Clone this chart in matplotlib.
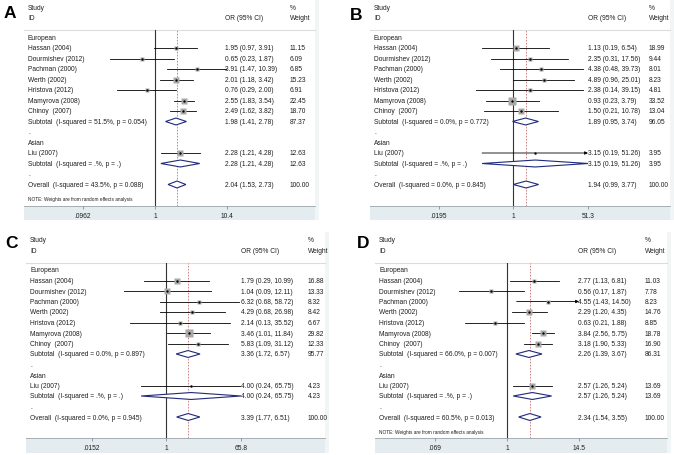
import numpy as np
import matplotlib
matplotlib.use("Agg")
import matplotlib.pyplot as plt
from matplotlib.patches import Rectangle, Polygon
from matplotlib.lines import Line2D
from matplotlib import transforms
from matplotlib.ticker import NullLocator, FixedLocator, FixedFormatter

plt.rcParams['font.family'] = ['Liberation Sans', 'DejaVu Sans']

# ---------------- data ----------------
european = ["Hassan (2004)", "Dourmishev (2012)", "Pachman (2000)", "Werth (2002)",
            "Hristova (2012)", "Mamyrova (2008)", "Chinoy  (2007)"]
asian = ["Liu (2007)"]

A_OR = [1.95, 0.65, 3.91, 2.01, 0.76, 2.55, 2.49, 2.28]
A_LO = [0.97, 0.23, 1.47, 1.18, 0.29, 1.83, 1.62, 1.21]
A_HI = [3.91, 1.87, 10.39, 3.42, 2.00, 3.54, 3.82, 4.28]
A_WT = [11.15, 6.09, 6.85, 15.23, 6.91, 22.45, 18.70, 12.63]
A_SUB_EUR = [1.98, 1.41, 2.78, 87.37]
A_SUB_ASIA = [2.28, 1.21, 4.28, 12.63]
A_OVERALL = [2.04, 1.53, 2.73, 100.00]
A_HET = ["I-squared = 51.5%, p = 0.054", "I-squared = .%, p = .", "I-squared = 43.5%, p = 0.088"]
A_TICKS = [0.0962, 1, 10.4]
A_TICKLABELS = [".0962", "1", "10.4"]
A_ARROWS = []

B_OR = [1.13, 2.35, 4.38, 4.89, 2.38, 0.93, 1.50, 3.15]
B_LO = [0.19, 0.31, 0.48, 0.96, 0.14, 0.23, 0.21, 0.19]
B_HI = [6.54, 17.56, 39.73, 25.01, 39.15, 3.79, 10.78, 51.26]
B_WT = [18.99, 9.44, 8.01, 8.23, 4.81, 33.52, 13.04, 3.95]
B_SUB_EUR = [1.89, 0.95, 3.74, 96.05]
B_SUB_ASIA = [3.15, 0.19, 51.26, 3.95]
B_OVERALL = [1.94, 0.99, 3.77, 100.00]
B_HET = ["I-squared = 0.0%, p = 0.772", "I-squared = .%, p = .", "I-squared = 0.0%, p = 0.845"]
B_TICKS = [0.0195, 1, 51.3]
B_TICKLABELS = [".0195", "1", "51.3"]
B_ARROWS = [7]

C_OR = [1.79, 1.04, 6.32, 4.29, 2.14, 3.46, 5.83, 4.00]
C_LO = [0.29, 0.09, 0.68, 0.68, 0.13, 1.01, 1.09, 0.24]
C_HI = [10.99, 12.11, 58.72, 26.98, 35.52, 11.84, 31.12, 65.75]
C_WT = [16.88, 13.33, 8.32, 8.42, 6.67, 29.82, 12.33, 4.23]
C_SUB_EUR = [3.36, 1.72, 6.57, 95.77]
C_SUB_ASIA = [4.00, 0.24, 65.75, 4.23]
C_OVERALL = [3.39, 1.77, 6.51, 100.00]
C_HET = ["I-squared = 0.0%, p = 0.897", "I-squared = .%, p = .", "I-squared = 0.0%, p = 0.945"]
C_TICKS = [0.0152, 1, 65.8]
C_TICKLABELS = [".0152", "1", "65.8"]
C_ARROWS = []

D_OR = [2.77, 0.56, 4.55, 2.29, 0.63, 3.84, 3.18, 2.57]
D_LO = [1.13, 0.17, 1.43, 1.20, 0.21, 2.56, 1.90, 1.26]
D_HI = [6.81, 1.87, 14.50, 4.35, 1.88, 5.75, 5.33, 5.24]
D_WT = [11.03, 7.78, 8.23, 14.76, 8.85, 18.78, 16.90, 13.69]
D_SUB_EUR = [2.26, 1.39, 3.67, 86.31]
D_SUB_ASIA = [2.57, 1.26, 5.24, 13.69]
D_OVERALL = [2.34, 1.54, 3.55, 100.00]
D_HET = ["I-squared = 66.0%, p = 0.007", "I-squared = .%, p = .", "I-squared = 60.5%, p = 0.013"]
D_TICKS = [0.069, 1, 14.5]
D_TICKLABELS = [".069", "1", "14.5"]
D_ARROWS = [2]

NOTE = "NOTE: Weights are from random effects analysis"

# ---------------- layout ----------------
W, H = 674, 456
fig = plt.figure(figsize=(W / 100, H / 100), dpi=100)

FS = 4.8
TXT = '#1e1e1e'
NAVY = '#1e2a7a'
BAND = '#e4ecef'
ROW0 = 38.5
ROWH = 10.5


def fx(x):
    return x / W


def fy(y):
    return 1 - y / H


def panel(letter, lay, OR, LO, HI, WT, SUB_EUR, SUB_ASIA, OVERALL, HET,
          TICKS, TICKLABELS, ARROWS, note):
    y0 = lay['y0']
    left, right = lay['left'], lay['right']
    # background band and strip
    fig.add_artist(Rectangle((fx(left), fy(y0 + 221)), (right + 4 - left) / W, 14.5 / H,
                             transform=fig.transFigure, facecolor=BAND, edgecolor='none', zorder=-2))
    fig.add_artist(Rectangle((fx(right), fy(y0 + 221)), 4 / W, 221 / H,
                             transform=fig.transFigure, facecolor='#f1f5f6', edgecolor='none', zorder=-2))
    fig.add_artist(Line2D([fx(left), fx(right)], [fy(y0 + 206.5)] * 2, transform=fig.transFigure,
                          color='#9aa4a8', lw=0.6, zorder=-1))
    fig.add_artist(Line2D([fx(left), fx(right)], [fy(y0 + 31)] * 2, transform=fig.transFigure,
                          color='#dcdcdc', lw=0.8, zorder=-1))
    # letter
    fig.text(fx(lay['letter'][0]), fy(lay['letter'][1]), letter, fontsize=12.5, fontweight='bold',
             ha='center', va='center', color='black')
    # headers
    sx, ox, wx = lay['study_x'], lay['or_x'], lay['wt_x']
    fig.text(fx(sx), fy(y0 + 8), "Study", fontsize=FS, color=TXT, va='center')
    fig.text(fx(sx), fy(y0 + 19), "ID", fontsize=FS, color=TXT, va='center')
    fig.text(fx(ox), fy(y0 + 19), "OR (95% CI)", fontsize=FS, color=TXT, va='center')
    fig.text(fx(wx), fy(y0 + 8), "%", fontsize=FS, color=TXT, va='center')
    fig.text(fx(wx), fy(y0 + 19), "Weight", fontsize=FS, color=TXT, va='center')

    # forest axes
    top, bot = y0 + 31, y0 + 206.5
    l, r = lay['xmin_px'], lay['xmax_px']
    ax = fig.add_axes([fx(l), fy(bot), (r - l) / W, (bot - top) / H])
    ax.set_xscale('log')
    ax.set_xlim(TICKS[0], TICKS[-1])
    ax.set_ylim((bot - y0 - ROW0) / ROWH, (top - y0 - ROW0) / ROWH)
    ax.patch.set_visible(False)
    for s in ax.spines.values():
        s.set_visible(False)
    ax.yaxis.set_visible(False)
    ax.xaxis.set_major_locator(FixedLocator(TICKS))
    ax.xaxis.set_major_formatter(FixedFormatter(TICKLABELS))
    ax.xaxis.set_minor_locator(NullLocator())
    ax.tick_params(axis='x', direction='out', length=2.5, width=0.5, colors='#777777',
                   labelsize=FS, labelcolor=TXT, pad=2.0)

    ax.axvline(1, color='#333333', lw=0.8, zorder=1)
    ax.axvline(OVERALL[0], color='#c87070', lw=0.6, ls=(0, (2, 1.6)), zorder=1)

    trans = transforms.blended_transform_factory(fig.transFigure, ax.transData)

    def row_text(row, label, est=None):
        ax.text(fx(sx), row, label, transform=trans, fontsize=FS, color=TXT, va='center')
        if est is not None:
            ax.text(fx(ox), row, f"{est[0]:.2f} ({est[1]:.2f}, {est[2]:.2f})", transform=trans,
                    fontsize=FS, color=TXT, va='center')
            ax.text(fx(wx), row, f"{est[3]:.2f}", transform=trans, fontsize=FS, color=TXT, va='center')

    def study(i, row, name):
        if i in ARROWS:
            ax.annotate('', xy=(HI[i], row), xytext=(LO[i], row),
                        arrowprops=dict(arrowstyle='-|>', lw=0.6, color='black',
                                        mutation_scale=4.5, shrinkA=0, shrinkB=0))
        else:
            ax.plot([LO[i], HI[i]], [row, row], color='black', lw=0.6, zorder=2)
        ax.plot(OR[i], row, marker='s', ms=1.02 * np.sqrt(WT[i]), color='#a9a9a9', mec='none', zorder=3)
        ax.plot(OR[i], row, marker='o', ms=1.7, color='black', mec='none', zorder=4)
        row_text(row, name, (OR[i], LO[i], HI[i], WT[i]))

    def diamond(row, est, label):
        h = 0.33
        poly = Polygon([(est[1], row), (est[0], row - h), (est[2], row), (est[0], row + h)],
                       closed=True, facecolor='white', edgecolor=NAVY, lw=0.8, zorder=3)
        ax.add_patch(poly)
        row_text(row, label, est)

    row_text(0, "European")
    for k, name in enumerate(european):
        study(k, 1 + k, name)
    diamond(8, SUB_EUR, f"Subtotal  ({HET[0]})")
    row_text(9, ".")
    row_text(10, "Asian")
    study(7, 11, asian[0])
    diamond(12, SUB_ASIA, f"Subtotal  ({HET[1]})")
    row_text(13, ".")
    diamond(14, OVERALL, f"Overall  ({HET[2]})")
    if note:
        ax.text(fx(sx), (200 - ROW0) / ROWH, NOTE, transform=trans, fontsize=3.4,
                color=TXT, va='center')


LAY_A = dict(y0=0, letter=(10, 14), left=24, right=315, study_x=28, or_x=225, wt_x=290,
             xmin_px=83, xmax_px=227)
LAY_B = dict(y0=0, letter=(356, 15), left=370, right=670, study_x=374, or_x=588, wt_x=649,
             xmin_px=439, xmax_px=588)
LAY_C = dict(y0=232.5, letter=(11, 243), left=26, right=325, study_x=30, or_x=241, wt_x=308,
             xmin_px=92, xmax_px=241)
LAY_D = dict(y0=232.5, letter=(363, 243), left=375, right=667, study_x=379, or_x=578, wt_x=645,
             xmin_px=435, xmax_px=579)

panel("A", LAY_A, A_OR, A_LO, A_HI, A_WT, A_SUB_EUR, A_SUB_ASIA, A_OVERALL, A_HET,
      A_TICKS, A_TICKLABELS, A_ARROWS, True)
panel("B", LAY_B, B_OR, B_LO, B_HI, B_WT, B_SUB_EUR, B_SUB_ASIA, B_OVERALL, B_HET,
      B_TICKS, B_TICKLABELS, B_ARROWS, False)
panel("C", LAY_C, C_OR, C_LO, C_HI, C_WT, C_SUB_EUR, C_SUB_ASIA, C_OVERALL, C_HET,
      C_TICKS, C_TICKLABELS, C_ARROWS, False)
panel("D", LAY_D, D_OR, D_LO, D_HI, D_WT, D_SUB_EUR, D_SUB_ASIA, D_OVERALL, D_HET,
      D_TICKS, D_TICKLABELS, D_ARROWS, True)

fig.savefig("out.png", dpi=100, facecolor='white')
